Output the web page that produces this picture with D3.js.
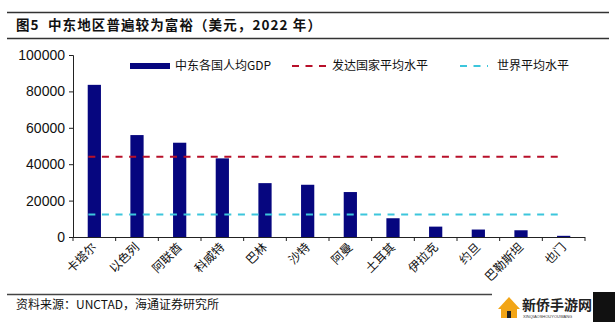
<!DOCTYPE html>
<html>
<head>
<meta charset="utf-8">
<script src="https://cdn.jsdelivr.net/npm/d3@7/dist/d3.min.js"></script>
<style>
  html, body { margin: 0; padding: 0; background: #fff; }
  svg { display: block; }
  text { font-family: "Noto Sans CJK SC", "Liberation Sans", Arial, sans-serif; white-space: pre; }
  .num { font-family: "Liberation Sans", Arial, sans-serif; }
</style>
</head>
<body>
<svg id="chart" width="615" height="322"></svg>
<script>
// Per-capita GDP of Middle East economies, 2022 (USD)
const countries = ["卡塔尔", "以色列", "阿联酋", "科威特", "巴林", "沙特", "阿曼", "土耳其", "伊拉克", "约旦", "巴勒斯坦", "也门"];
const gdpPerCapita = [83600, 56000, 51800, 43200, 29600, 28700, 24700, 10300, 5700, 4100, 3700, 650];
const developedAvg = [44100];
const worldAvg = [12300];
const yTicks = [0, 20000, 40000, 60000, 80000, 100000];
const seriesNames = ["中东各国人均GDP", "发达国家平均水平", "世界平均水平"];
const titleText = "图5  中东地区普遍较为富裕（美元，2022 年）";
const sourceText = "资料来源：UNCTAD，海通证券研究所";

const svg = d3.select("#chart");
const plot = { left: 73, right: 585, top: 55, bottom: 237 };

const x = d3.scaleBand().domain(countries).range([plot.left, plot.right]).paddingInner(0.69).paddingOuter(0.345);
const xEdge = d3.scaleBand().domain(countries).range([plot.left, plot.right]).padding(0);
const y = d3.scaleLinear().domain([0, 100000]).range([plot.bottom, plot.top]);

// Header rules and title
svg.append("line").attr("x1", 7).attr("x2", 609).attr("y1", 12.5).attr("y2", 12.5).attr("stroke", "#333").attr("stroke-width", 1.3);
svg.append("line").attr("x1", 7).attr("x2", 609).attr("y1", 38.5).attr("y2", 38.5).attr("stroke", "#333").attr("stroke-width", 1.3);
svg.append("text").attr("x", 16).attr("y", 30).attr("font-size", 13.5).attr("font-weight", "bold").attr("fill", "#111")
  .attr("letter-spacing", 1.1)
  .text(titleText);

// Bars
svg.append("g").selectAll("rect").data(countries).join("rect")
  .attr("x", d => x(d))
  .attr("width", x.bandwidth())
  .attr("y", (d, i) => y(gdpPerCapita[i]))
  .attr("height", (d, i) => y(0) - y(gdpPerCapita[i]))
  .attr("fill", "#06067f");

// Reference lines from first to last category centre
const c0 = x(countries[0]) + x.bandwidth() / 2;
const c1 = x(countries[countries.length - 1]) + x.bandwidth() / 2;
svg.append("line").attr("x1", c0 - 6).attr("x2", c1 - 4)
  .attr("y1", y(developedAvg[0])).attr("y2", y(developedAvg[0]))
  .attr("stroke", "#b8102a").attr("stroke-width", 2).attr("stroke-dasharray", "7,6.6");
svg.append("line").attr("x1", c0 - 6).attr("x2", c1 - 4)
  .attr("y1", y(worldAvg[0])).attr("y2", y(worldAvg[0]))
  .attr("stroke", "#3cc6dc").attr("stroke-width", 2).attr("stroke-dasharray", "7,6.6");

// Y axis
const yAxis = svg.append("g").attr("transform", `translate(${plot.left},0)`)
  .call(d3.axisLeft(y).tickValues(yTicks).tickSize(4).tickPadding(4).tickFormat(d3.format("d")));
yAxis.select(".domain").attr("stroke", "#222");
yAxis.selectAll(".tick line").attr("stroke", "#222");
yAxis.selectAll("text").attr("class", "num").attr("font-size", 14).attr("fill", "#111");

// X axis: ticks on category boundaries
const xg = svg.append("g");
xg.append("line").attr("x1", plot.left).attr("x2", plot.right).attr("y1", plot.bottom + 0.5).attr("y2", plot.bottom + 0.5).attr("stroke", "#222");
const edges = countries.map(d => xEdge(d)).concat([plot.right]);
xg.selectAll("line.tk").data(edges).join("line").attr("class", "tk")
  .attr("x1", d => d).attr("x2", d => d)
  .attr("y1", plot.bottom).attr("y2", plot.bottom + 4).attr("stroke", "#222");
xg.selectAll("text").data(countries).join("text")
  .attr("transform", d => `translate(${x(d) + x.bandwidth() / 2 + 3},${plot.bottom + 11}) rotate(-45)`)
  .attr("text-anchor", "end")
  .attr("font-size", 12)
  .attr("fill", "#111")
  .text(d => d);

// Legend
const lg = svg.append("g").attr("font-size", 12).attr("fill", "#111");
lg.append("rect").attr("x", 130).attr("y", 63).attr("width", 40).attr("height", 6).attr("fill", "#06067f");
lg.append("text").attr("x", 175).attr("y", 70).text(seriesNames[0]);
lg.append("line").attr("x1", 292).attr("x2", 326).attr("y1", 66).attr("y2", 66)
  .attr("stroke", "#b8102a").attr("stroke-width", 2).attr("stroke-dasharray", "7,6.5");
lg.append("text").attr("x", 332).attr("y", 70).text(seriesNames[1]);
lg.append("line").attr("x1", 460).attr("x2", 488).attr("y1", 66).attr("y2", 66)
  .attr("stroke", "#3cc6dc").attr("stroke-width", 2).attr("stroke-dasharray", "7,6.5");
lg.append("text").attr("x", 497).attr("y", 70).text(seriesNames[2]);

// Footer rule and source note
svg.append("line").attr("x1", 7).attr("x2", 609).attr("y1", 294.5).attr("y2", 294.5).attr("stroke", "#444").attr("stroke-width", 1.3);
svg.append("text").attr("x", 16).attr("y", 309).attr("font-size", 12).attr("fill", "#111").text(sourceText);

// Site badge in the lower-right corner
const wm = svg.append("g");
wm.append("rect").attr("x", 593).attr("y", 292).attr("width", 22).attr("height", 30).attr("fill", "#111");
wm.append("rect").attr("x", 492).attr("y", 292).attr("width", 101).attr("height", 30).attr("fill", "#fff");
wm.append("path").attr("d", "M498,309 L509,297 L520,309 Z").attr("fill", "#f2a516");
wm.append("rect").attr("x", 501).attr("y", 307).attr("width", 16).attr("height", 11).attr("fill", "#f2a516");
wm.append("rect").attr("x", 507).attr("y", 311).attr("width", 4).attr("height", 7).attr("fill", "#222");
wm.append("text").attr("x", 522).attr("y", 310).attr("font-size", 14).attr("font-weight", "bold").attr("fill", "#222").text("新侨手游网");
wm.append("text").attr("x", 523).attr("y", 318).attr("font-size", 4).attr("fill", "#333").attr("class", "num").text("XINQIAOSHOUYOUWANG");
</script>
</body>
</html>
